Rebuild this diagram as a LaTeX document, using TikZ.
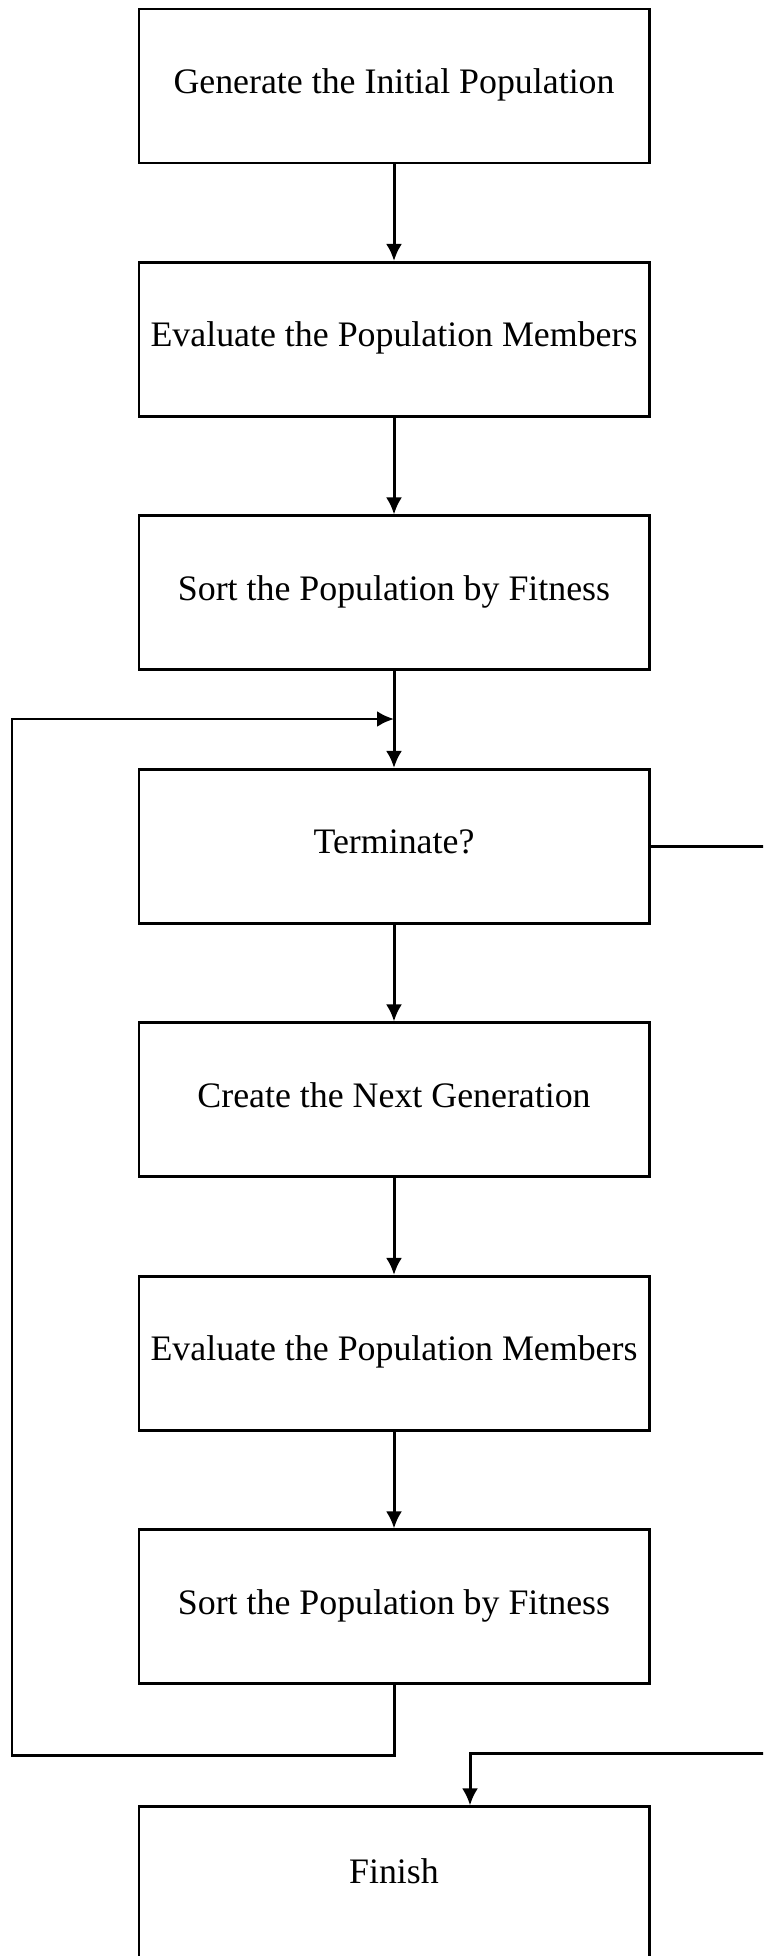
\documentclass[tikz,border=0pt]{standalone}
\usepackage{fontspec}
\setmainfont{Liberation Serif}
\usetikzlibrary{positioning,arrows.meta}

\begin{document}
\begin{tikzpicture}[
  font=\fontsize{20.4}{24}\selectfont,
  stepbox/.style={draw,line width=1.7pt,minimum width=10.2cm,
                  minimum height=3.08cm,inner sep=0pt,text depth=0.2cm},
  flow/.style={line width=1.7pt,-{Latex[length=0.34cm,width=0.32cm]}},
  node distance=1.93cm]

% Page: 763 x 1956 px at 0.02 cm per px, y runs downwards
%   box column x = 138..650 px,  box height 154 px,  gap 99 px
\clip (0,0) rectangle (15.26,-39.12);

% ── Steps ────────────────────────────────────────────────────────────────────
\node[stepbox] (init) at (7.88,-1.72) {Generate the Initial Population};
\node[stepbox,below=of init]  (evalA)  {Evaluate the Population Members};
\node[stepbox,below=of evalA] (sortA)  {Sort the Population by Fitness};
\node[stepbox,below=of sortA] (term)   {Terminate?};
\node[stepbox,below=of term]  (create) {Create the Next Generation};
\node[stepbox,below=of create](evalB)  {Evaluate the Population Members};
\node[stepbox,below=of evalB] (sortB)  {Sort the Population by Fitness};
% Finish box runs past the bottom of the page
\node[stepbox,text depth=0.52cm,below=2.40cm of sortB] (finish) {Finish};

% ── Main flow ────────────────────────────────────────────────────────────────
\draw[flow] (init)   -- (evalA);
\draw[flow] (evalA)  -- (sortA);
\draw[flow] (sortA)  -- (term);
\draw[flow] (term)   -- (create);
\draw[flow] (create) -- (evalB);
\draw[flow] (evalB)  -- (sortB);

% ── Loop back to the termination test ────────────────────────────────────────
\coordinate (loopB) at (0.24,-35.10);
\coordinate (loopT) at (0.24,-14.38);
\draw[flow] (sortB.south) |- (loopB) -- (loopT) -- (loopT -| term.north);

% ── Exit to Finish (leaves the page on the right) ────────────────────────────
\coordinate (exitR) at (15.60,-35.06);
\draw[flow] (term.east) -| (exitR) -| ([xshift=1.52cm]finish.north);

\end{tikzpicture}
\end{document}
